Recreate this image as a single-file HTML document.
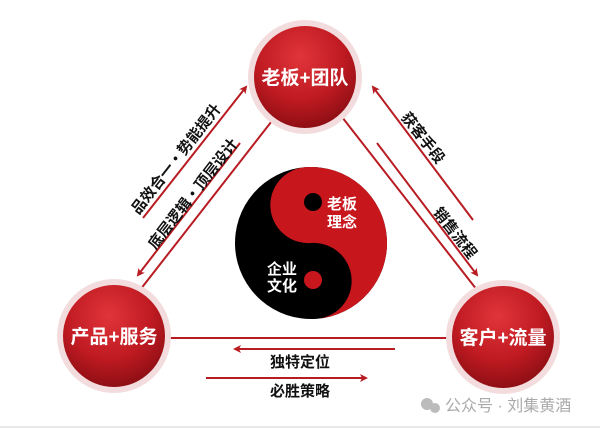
<!DOCTYPE html>
<html><head><meta charset="utf-8"><style>
body{margin:0;background:#fff;}
svg{display:block;font-family:"Liberation Sans","Noto Sans CJK SC",sans-serif;font-weight:bold;}
</style></head><body>
<svg width="600" height="428" viewBox="0 0 600 428">
<defs>
<radialGradient id="g" cx="0.45" cy="0.3" r="0.7">
<stop offset="0" stop-color="#e0353a"/><stop offset="0.6" stop-color="#c01a22"/><stop offset="1" stop-color="#8e0f14"/>
</radialGradient>
<marker id="a" markerWidth="8" markerHeight="8" refX="6" refY="4" orient="auto" markerUnits="userSpaceOnUse">
<path d="M0,0 L8,4 L0,8 L2,4 Z" fill="#b81c22"/></marker>
</defs>
<rect x="0" y="426" width="600" height="2" fill="#e8e8e8"/>
<g stroke="#b81c22" stroke-width="2" fill="none">
<line x1="275" y1="117" x2="140" y2="290"/>
<line x1="342" y1="117" x2="477" y2="290"/>
<line x1="160" y1="338" x2="455" y2="338"/>
<line x1="143" y1="218" x2="246" y2="87" marker-end="url(#a)"/>
<line x1="240" y1="143" x2="138" y2="275" marker-end="url(#a)"/>
<line x1="473" y1="220" x2="373" y2="87" marker-end="url(#a)"/>
<line x1="377" y1="143" x2="477" y2="275" marker-end="url(#a)"/>
<line x1="395" y1="349" x2="235" y2="349" marker-end="url(#a)"/>
<line x1="206" y1="378" x2="366" y2="378" marker-end="url(#a)"/>
</g>
<g>
<circle cx="305" cy="77" r="57" fill="#f3dcdd"/><circle cx="305" cy="77" r="51" fill="url(#g)"/>
<circle cx="114" cy="336" r="57" fill="#f3dcdd"/><circle cx="114" cy="336" r="51" fill="url(#g)"/>
<circle cx="503" cy="337" r="57" fill="#f3dcdd"/><circle cx="503" cy="337" r="51" fill="url(#g)"/>
</g>
<g fill="#fff" font-size="19" text-anchor="middle">
<text x="305" y="84">老板+团队</text>
<text x="114" y="343">产品+服务</text>
<text x="503" y="344">客户+流量</text>
</g>
<g transform="translate(311,243) rotate(-4)">
<circle r="76" fill="#000"/>
<path d="M0,-76 A76,76 0 0,1 0,76 A38,38 0 0,0 0,0 A38,38 0 0,1 0,-76 Z" fill="#c8161d"/>
</g>
<circle cx="313" cy="202" r="9" fill="#000"/>
<circle cx="313" cy="280" r="9" fill="#c8161d"/>
<g font-size="15" text-anchor="middle" fill="#fff">
<text x="342" y="209">老板</text>
<text x="342" y="227">理念</text>
<text x="282" y="274">企业</text>
<text x="282" y="291">文化</text>
</g>
<g font-size="15" fill="#111" text-anchor="middle">
<text transform="translate(180,162) rotate(-52)">品效合一・势能提升</text>
<text transform="translate(197,197) rotate(-52)">底层逻辑・顶层设计</text>
<text transform="translate(419,141) rotate(52)">获客手段</text>
<text transform="translate(451,236) rotate(52)">销售流程</text>
<text x="300" y="367">独特定位</text>
<text x="300" y="396">必胜策略</text>
</g>
<text x="445" y="411" font-size="16" fill="#aaa" font-weight="normal">公众号 · 刘集黄酒</text>
<circle cx="427" cy="404" r="6" fill="#bbb"/><circle cx="435" cy="408" r="5" fill="#bbb"/>
</svg>
</body></html>
